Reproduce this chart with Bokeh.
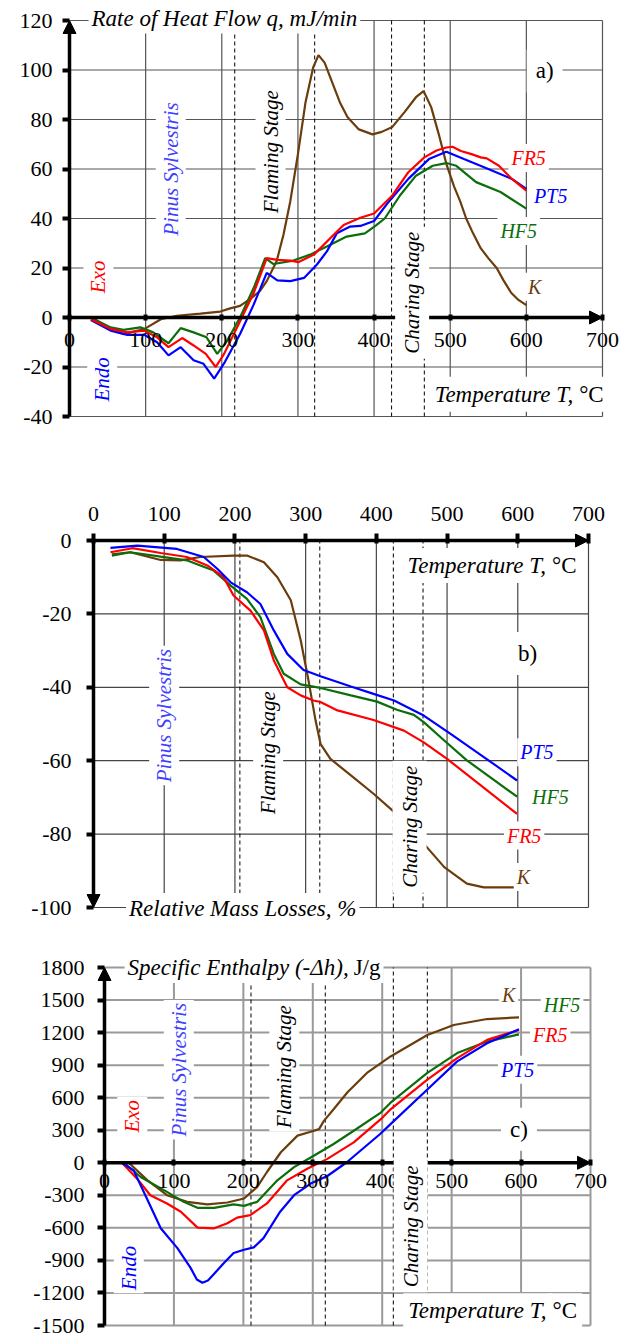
import numpy as np
from bokeh.plotting import figure
from bokeh.models import Range1d, Label, Arrow, NormalHead, FixedTicker
from bokeh.layouts import column
from bokeh.embed import file_html
from bokeh.resources import INLINE

SERIF = "Liberation Serif"

# ---------------- ticks ----------------
temp_ticks = [0, 100, 200, 300, 400, 500, 600, 700]
q_ticks = [-40, -20, 0, 20, 40, 60, 80, 100, 120]
m_ticks = [-100, -80, -60, -40, -20, 0]
h_ticks = [-1500, -1200, -900, -600, -300, 0, 300, 600, 900, 1200, 1500, 1800]

# stage boundaries (dashed lines), degC
stage_a = [217, 322, 423, 466]
stage_b = [207, 320, 424, 466]
stage_c = [211, 318, 416, 465]

# ---------------- panel a: rate of heat flow ----------------
a_T_FR5 = [28, 54, 76, 98, 115, 130, 148, 163, 179, 192, 203, 220, 242, 259, 273, 290, 301, 321, 347, 360, 382, 400, 424, 445, 466, 482, 495, 503, 514, 528, 540, 548, 564, 581, 600]
a_q_FR5 = [-0.7, -4.6, -6, -5.3, -8, -12, -8.3, -11.3, -14.7, -20, -14.7, -4, 10, 24, 23.3, 23, 22.4, 25.4, 33.4, 37.4, 40.3, 42, 49.3, 58.7, 64.7, 67.5, 68.7, 69, 67.3, 66, 64.7, 64.3, 61.3, 56, 51.3]
a_T_PT5 = [28, 54, 76, 98, 115, 130, 146, 163, 176, 190, 204, 224, 242, 259, 273, 290, 308, 325, 338, 351, 368, 382, 400, 419, 445, 472, 495, 518, 550, 581, 600]
a_q_PT5 = [-1, -5.3, -7, -7, -10, -15.3, -12, -17.3, -18.7, -24.7, -18, -6.7, 5.3, 18, 15, 14.7, 16, 21.4, 26.7, 34, 36.7, 37, 39, 46.7, 56, 64, 67, 64, 60, 56, 52]
a_T_HF5 = [28, 54, 71, 93, 110, 130, 146, 163, 180, 194, 207, 224, 242, 257, 268, 294, 316, 338, 364, 388, 403, 414, 434, 455, 477, 495, 508, 534, 566, 600]
a_q_HF5 = [0, -4, -5, -4, -6, -10.4, -4.3, -6, -8, -14.7, -9.4, 0, 12, 24, 21.6, 23, 25.4, 28.7, 32.7, 34, 37.3, 40, 49.3, 57.3, 61.3, 62.4, 61.3, 54.7, 50.7, 44]
a_T_K = [30, 50, 71, 98, 120, 141, 172, 198, 211, 224, 237, 250, 259, 272, 281, 290, 300, 310, 320, 327, 335, 345, 355, 365, 380, 398, 410, 424, 440, 455, 465, 475, 485, 495, 505, 513, 521, 530, 540, 550, 561, 570, 580, 590, 600]
a_q_K = [0, -4.5, -6.7, -4.7, -0.7, 0.7, 1.6, 2.4, 3.7, 4.7, 7.4, 10.7, 14.7, 22.7, 33.4, 47, 66, 87, 101, 106, 103, 95, 87, 81, 76, 74, 75, 77, 83, 89, 91.5, 85, 74, 62, 53, 47, 40, 34, 28, 24, 20, 15, 10, 7, 5]

# ---------------- panel b: relative mass losses ----------------
b_T_FR5 = [24, 55, 95, 132, 161, 184, 198, 222, 241, 255, 274, 293, 311, 321, 345, 396, 439, 467, 500, 599]
b_m_FR5 = [-3.2, -2.1, -3.4, -4.5, -6.8, -10, -15, -19.1, -24.5, -32.7, -40, -42.2, -43.6, -44, -46.3, -48.9, -51.8, -55, -59.5, -74.5]
b_T_PT5 = [24, 62, 118, 156, 175, 194, 217, 236, 255, 274, 297, 321, 364, 396, 425, 467, 505, 552, 599]
b_m_PT5 = [-2, -1.4, -2.3, -4.5, -7.7, -11.4, -14.1, -17.3, -24.5, -30.9, -35.3, -37, -39.8, -41.8, -43.6, -47.7, -52.7, -59, -65.4]
b_T_HF5 = [26, 52, 95, 132, 151, 170, 194, 217, 236, 255, 269, 293, 311, 321, 364, 401, 429, 453, 467, 496, 528, 599]
b_m_HF5 = [-4.1, -3.2, -4.4, -5.4, -6.8, -8.2, -12.3, -15.9, -20.9, -30.9, -36.3, -39.2, -39.8, -40.2, -42.2, -43.9, -46.1, -47.5, -49.5, -54.5, -59.9, -69.8]
b_T_K = [26, 52, 95, 123, 151, 198, 217, 241, 260, 279, 293, 304, 314, 321, 335, 364, 396, 427, 447, 467, 496, 528, 552, 599]
b_m_K = [-3.8, -3.2, -5.3, -5.4, -4.5, -4.1, -4.1, -5.9, -10, -16.3, -27.2, -38.1, -49, -55.4, -59.5, -64, -69, -74.3, -78.5, -82.6, -89, -93.5, -94.5, -94.5]

# ---------------- panel c: specific enthalpy ----------------
c_T_FR5 = [25, 47, 66, 90, 110, 134, 158, 177, 191, 210, 234, 263, 292, 321, 359, 398, 412, 465, 508, 551, 597]
c_h_FR5 = [0, -147, -299, -375, -451, -598, -604, -558, -506, -482, -375, -162, -55, 36, 188, 402, 493, 767, 965, 1133, 1224]
c_T_PT5 = [25, 42, 61, 81, 105, 124, 133, 141, 149, 157, 172, 186, 201, 215, 229, 253, 273, 297, 321, 349, 397, 412, 465, 508, 551, 597]
c_h_PT5 = [0, -70, -330, -604, -787, -969, -1076, -1106, -1085, -1030, -924, -832, -802, -780, -695, -451, -299, -192, -122, 5, 265, 356, 676, 935, 1102, 1230]
c_T_HF5 = [28, 52, 90, 114, 134, 158, 186, 201, 220, 249, 273, 302, 330, 359, 398, 412, 465, 508, 551, 597]
c_h_HF5 = [0, -131, -268, -360, -415, -415, -384, -397, -360, -162, -40, 67, 173, 295, 463, 554, 828, 1011, 1117, 1184]
c_T_K = [35, 62, 90, 119, 148, 177, 201, 220, 234, 254, 278, 297, 309, 316, 330, 350, 378, 412, 465, 503, 551, 597]
c_h_K = [0, -162, -299, -360, -384, -366, -329, -223, -85, 97, 250, 286, 310, 386, 493, 650, 828, 980, 1178, 1270, 1325, 1340]

RED = "#ff0000"
BLUE = "#0000ff"
GREEN = "#0b6e0b"
BROWN = "#6b3c0c"
LBLUE = "#3f3fff"
PAGE_W = 625


def make_fig(top, height, vis, data, frame, x_loc="below"):
    """vis: pixel box (L,R,T,B) of the data limits; frame: pixel box of the drawing frame."""
    L, R, T, B = vis
    x0, x1, y0, y1 = data
    fl, fr, ft, fb = frame
    sx = (R - L) / (x1 - x0)
    sy = (B - T) / (y1 - y0)
    xr = Range1d(x0 - (L - fl) / sx, x1 + (fr - R) / sx)
    yr = Range1d(y0 - (fb - B) / sy, y1 + (T - ft) / sy)
    p = figure(width=PAGE_W, height=height, x_range=xr, y_range=yr,
               output_backend="svg", toolbar_location=None, x_axis_location=x_loc,
               min_border_left=fl, min_border_right=PAGE_W - fr,
               min_border_top=ft - top, min_border_bottom=top + height - fb,
               frame_align=False)
    p.background_fill_color = "white"
    p.border_fill_color = "white"
    p.outline_line_color = None
    p.xgrid.visible = False
    p.ygrid.visible = False
    return p


def style_axis(ax, ticks, standoff, tick_in, tick_out):
    ax.ticker = FixedTicker(ticks=ticks)
    ax.major_label_overrides = {t: str(t) for t in ticks}
    ax.axis_line_color = None
    ax.major_tick_line_width = 4
    ax.major_tick_line_color = "black"
    ax.major_tick_in = tick_in
    ax.major_tick_out = tick_out
    ax.minor_tick_line_color = None
    ax.major_label_text_font = SERIF
    ax.major_label_text_font_size = "22px"
    ax.major_label_text_color = "black"
    ax.major_label_standoff = standoff


def grid(p, xs, ys, xlim, ylim, color, width):
    n, m = len(xs), len(ys)
    p.segment(x0=xs, y0=[ylim[0]] * n, x1=xs, y1=[ylim[1]] * n,
              line_color=color, line_width=width)
    p.segment(x0=[xlim[0]] * m, y0=ys, x1=[xlim[1]] * m, y1=ys,
              line_color=color, line_width=width)


def dashed(p, locs, ylim):
    n = len(locs)
    p.segment(x0=locs, y0=[ylim[0]] * n, x1=locs, y1=[ylim[1]] * n,
              line_color="black", line_width=1, line_dash="4 3")


def lab(p, x, y, text, color="black", size="21px", style="italic", angle=0.0,
        align="center", pad=2, x_offset=0):
    p.add_layout(Label(x=x, y=y, text=text, text_color=color, text_font=SERIF,
                       text_font_size=size, text_font_style=style, angle=angle,
                       text_align=align, text_baseline="middle", x_offset=x_offset,
                       background_fill_color="white", border_line_color=None,
                       padding=pad))


def axis_arrow(p, xs, ys, xe, ye):
    p.add_layout(Arrow(end=NormalHead(size=13, fill_color="black", line_color="black"),
                       x_start=xs, y_start=ys, x_end=xe, y_end=ye,
                       line_width=3.5, line_color="black"))


ROT = np.pi / 2

# ============ panel a ============
pa = make_fig(0, 440, (69, 602, 20, 416), (0, 700, -40, 120), (62, 619, 6, 418))
style_axis(pa.yaxis[0], q_ticks, 10, tick_in=7, tick_out=0)
style_axis(pa.xaxis[0], temp_ticks, 12, tick_in=3, tick_out=3)
pa.xaxis[0].fixed_location = 0
grid(pa, temp_ticks[1:], [t for t in q_ticks if t != 0], (0, 700), (-40, 120), "#555555", 1.2)
dashed(pa, stage_a, (-40, 120))
for T, v, c in [(a_T_K, a_q_K, BROWN), (a_T_HF5, a_q_HF5, GREEN),
                (a_T_PT5, a_q_PT5, BLUE), (a_T_FR5, a_q_FR5, RED)]:
    pa.line(T, v, line_color=c, line_width=2.2)
axis_arrow(pa, 0, -40, 0, 120)
axis_arrow(pa, 0, 0, 700, 0)
lab(pa, 25, 121, "Rate of Heat Flow q, mJ/min", size="23px", align="left", pad=3)
lab(pa, 624, 99.6, "a)", style="normal", size="23px", pad=9)
lab(pa, 133, 60, "Pinus Sylvestris", color=LBLUE, angle=ROT, pad=3)
lab(pa, 264, 67, "Flaming Stage", angle=ROT, pad=3)
lab(pa, 450, 10, "Charing Stage", angle=ROT, pad=5)
lab(pa, 38, 16.4, "Exo", color=RED, angle=ROT, pad=3)
lab(pa, 43, -25, "Endo", color=BLUE, angle=ROT, pad=3)
lab(pa, 668, -31, "Temperature T,", size="23px", align="right", pad=5)
lab(pa, 668, -31, "\u00b0C", style="normal", size="23px", align="left", pad=5, x_offset=-4)
lab(pa, 603, 64.4, "FR5", color=RED, size="20px", pad=3)
lab(pa, 632, 49, "PT5", color=BLUE, size="20px", pad=3)
lab(pa, 590, 35, "HF5", color=GREEN, size="20px", pad=3)
lab(pa, 611, 12.4, "K", color=BROWN, size="20px", pad=3)

# ============ panel b ============
pb = make_fig(440, 500, (93, 588, 540, 907), (0, 700, -100, 0), (86, 591, 533, 921), x_loc="above")
style_axis(pb.yaxis[0], m_ticks, 15, tick_in=7, tick_out=0)
style_axis(pb.xaxis[0], temp_ticks, 13, tick_in=10, tick_out=0)
grid(pb, temp_ticks[1:], [t for t in m_ticks if t != 0], (0, 700), (-100, 0), "#444444", 1.2)
dashed(pb, stage_b, (-100, 0))
for T, v, c in [(b_T_K, b_m_K, BROWN), (b_T_HF5, b_m_HF5, GREEN),
                (b_T_FR5, b_m_FR5, RED), (b_T_PT5, b_m_PT5, BLUE)]:
    pb.line(T, v, line_color=c, line_width=2.2)
axis_arrow(pb, 0, 0, 0, -100)
axis_arrow(pb, 0, 0, 700, 0)
lab(pb, 647, -6.8, "Temperature T,", size="23px", align="right", pad=5)
lab(pb, 647, -6.8, "\u00b0C", style="normal", size="23px", align="left", pad=5, x_offset=-4)
lab(pb, 614, -30.8, "b)", style="normal", size="23px", pad=9)
lab(pb, 100, -47.7, "Pinus Sylvestris", color=LBLUE, angle=ROT, pad=3)
lab(pb, 247, -57.8, "Flaming Stage", angle=ROT, pad=3)
lab(pb, 447, -78, "Charing Stage", angle=ROT, pad=5)
lab(pb, 211, -100.3, "Relative Mass Losses, %", size="23px", pad=3)
lab(pb, 627, -57.7, "PT5", color=BLUE, size="20px", pad=3)
lab(pb, 646, -70, "HF5", color=GREEN, size="20px", pad=3)
lab(pb, 609, -80.4, "FR5", color=RED, size="20px", pad=3)
lab(pb, 608, -91.7, "K", color=BROWN, size="20px", pad=3)

# ============ panel c ============
pc = make_fig(940, 398, (104, 590, 967, 1325), (0, 700, -1500, 1800), (97, 614, 952, 1327))
style_axis(pc.yaxis[0], h_ticks, 13, tick_in=7, tick_out=0)
style_axis(pc.xaxis[0], temp_ticks, 8, tick_in=3, tick_out=3)
pc.xaxis[0].fixed_location = 0
grid(pc, temp_ticks[1:], [t for t in h_ticks if t != 0], (0, 700), (-1500, 1800), "#9a9a9a", 2)
dashed(pc, stage_c, (-1500, 1800))
for T, v, c in [(c_T_K, c_h_K, BROWN), (c_T_HF5, c_h_HF5, GREEN),
                (c_T_FR5, c_h_FR5, RED), (c_T_PT5, c_h_PT5, BLUE)]:
    pc.line(T, v, line_color=c, line_width=2.2)
axis_arrow(pc, 0, -1500, 0, 1800)
axis_arrow(pc, 0, 0, 700, 0)
lab(pc, 356, 1800, "Specific Enthalpy (-\u0394h),", size="23px", align="right", pad=3)
lab(pc, 356, 1800, "J/g", style="normal", size="23px", align="left", pad=3, x_offset=-1)
lab(pc, 597, 310, "c)", style="normal", size="23px", pad=9)
lab(pc, 40, 429, "Exo", color=RED, angle=ROT, pad=3)
lab(pc, 107, 858, "Pinus Sylvestris", color=LBLUE, angle=ROT, pad=3)
lab(pc, 259, 886, "Flaming Stage", angle=ROT, pad=3)
lab(pc, 441, -586, "Charing Stage", angle=ROT, pad=5)
lab(pc, 35, -970, "Endo", color=BLUE, angle=ROT, pad=3)
lab(pc, 644, -1363, "Temperature T,", size="23px", align="right", pad=5)
lab(pc, 644, -1363, "\u00b0C", style="normal", size="23px", align="left", pad=5, x_offset=-4)
lab(pc, 582, 1544, "K", color=BROWN, size="20px", pad=3)
lab(pc, 659, 1453, "HF5", color=GREEN, size="20px", pad=3)
lab(pc, 642, 1178, "FR5", color=RED, size="20px", pad=3)
lab(pc, 595, 858, "PT5", color=BLUE, size="20px", pad=3)

layout = column(pa, pb, pc, spacing=0)
open("out.html", "w").write(file_html(layout, INLINE))
